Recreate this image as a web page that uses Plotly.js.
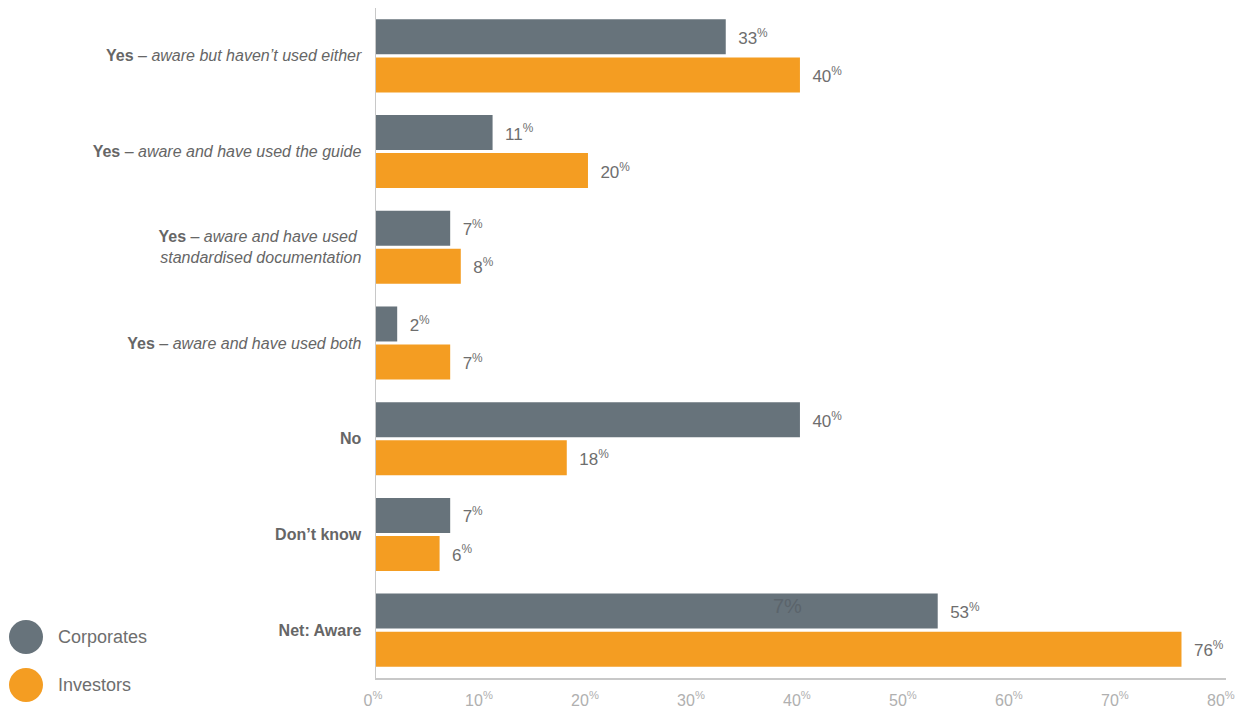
<!DOCTYPE html>
<html><head><meta charset="utf-8">
<script src="https://cdn.plot.ly/plotly-3.0.1.min.js"></script>
<style>html,body{margin:0;padding:0;background:#fff}#chart{width:1238px;height:711px}</style>
</head><body><div id="chart"></div>
<script>
const categories = [
  "<b>Yes</b> – <i>aware but haven’t used either</i>",
  "<b>Yes</b> – <i>aware and have used the guide</i>",
  "<b>Yes</b> – <i>aware and have used </i><br><i>standardised documentation</i>",
  "<b>Yes</b> – <i>aware and have used both</i>",
  "<b>No</b>",
  "<b>Don’t know</b>",
  "<b>Net: Aware</b>"
];
const corporates = [33, 11, 7, 2, 40, 7, 53];
const investors = [40, 20, 8, 7, 18, 6, 76];
const seriesNames = ["Corporates", "Investors"];
const xTickVals = [0, 10, 20, 30, 40, 50, 60, 70, 80];
const xTickText = xTickVals.map(v => v + "<sup>%</sup>");

const GRAY = "#67737b", ORANGE = "#f49d22";
const FONT = "Liberation Sans, Arial, sans-serif";
const W = 1238, H = 711, ML = 376, MR = 12, MT = 8, MB = 33;
const pw = W - ML - MR, ph = H - MT - MB;
const px = x => (x - ML) / pw;
const py = y => (H - MB - y) / ph;

function barTrace(name, vals, color) {
  return {
    type: "bar", orientation: "h", name: name,
    x: vals, y: categories,
    marker: {color: color},
    text: vals.map(v => "  " + v + "<sup>%</sup>"),
    textposition: "outside",
    textfont: {family: FONT, size: 17, color: "#6e6e6e"},
    cliponaxis: false,
    hoverinfo: "skip", showlegend: false
  };
}

const legendItems = [
  {name: seriesNames[0], color: GRAY, cy: 637},
  {name: seriesNames[1], color: ORANGE, cy: 685}
];
const shapes = legendItems.map(it => ({
  type: "circle", xref: "paper", yref: "paper",
  x0: px(9), x1: px(43), y0: py(it.cy + 17), y1: py(it.cy - 17),
  fillcolor: it.color, line: {width: 0}
}));
const annotations = legendItems.map(it => ({
  xref: "paper", yref: "paper", x: px(56), y: py(it.cy),
  xanchor: "left", yanchor: "middle", showarrow: false,
  text: it.name, font: {family: FONT, size: 18, color: "#6e6e6e"}
}));
annotations.push({
  x: 38.8, y: categories[6], yshift: 24, showarrow: false,
  text: "7%", font: {family: FONT, size: 20, color: "#5b646b"}
});

const layout = {
  width: W, height: H,
  margin: {l: ML, r: MR, t: MT, b: MB, pad: 0},
  paper_bgcolor: "#fff", plot_bgcolor: "#fff",
  barmode: "group", bargap: 0.205, bargroupgap: 0.08,
  xaxis: {
    range: [0, 80.2], tickvals: xTickVals, ticktext: xTickText,
    showgrid: false, zeroline: false, showline: true, linecolor: "#c8c8c8", linewidth: 1.5,
    ticks: "outside", ticklen: 7, tickcolor: "rgba(0,0,0,0)",
    ticklabeloverflow: "allow", ticklabelshift: -3,
    tickfont: {family: FONT, size: 16, color: "#b0b0b0"},
    fixedrange: true
  },
  yaxis: {
    autorange: "reversed", showgrid: false, zeroline: false,
    showline: true, linecolor: "#c8c8c8", linewidth: 1.5,
    ticks: "outside", ticklen: 10, tickcolor: "rgba(0,0,0,0)",
    tickfont: {family: FONT, size: 16, color: "#666"},
    fixedrange: true
  },
  shapes: shapes, annotations: annotations,
  showlegend: false,
  font: {family: FONT}
};

Plotly.newPlot("chart", [barTrace(seriesNames[0], corporates, GRAY), barTrace(seriesNames[1], investors, ORANGE)], layout, {displayModeBar: false, staticPlot: true});
</script></body></html>
